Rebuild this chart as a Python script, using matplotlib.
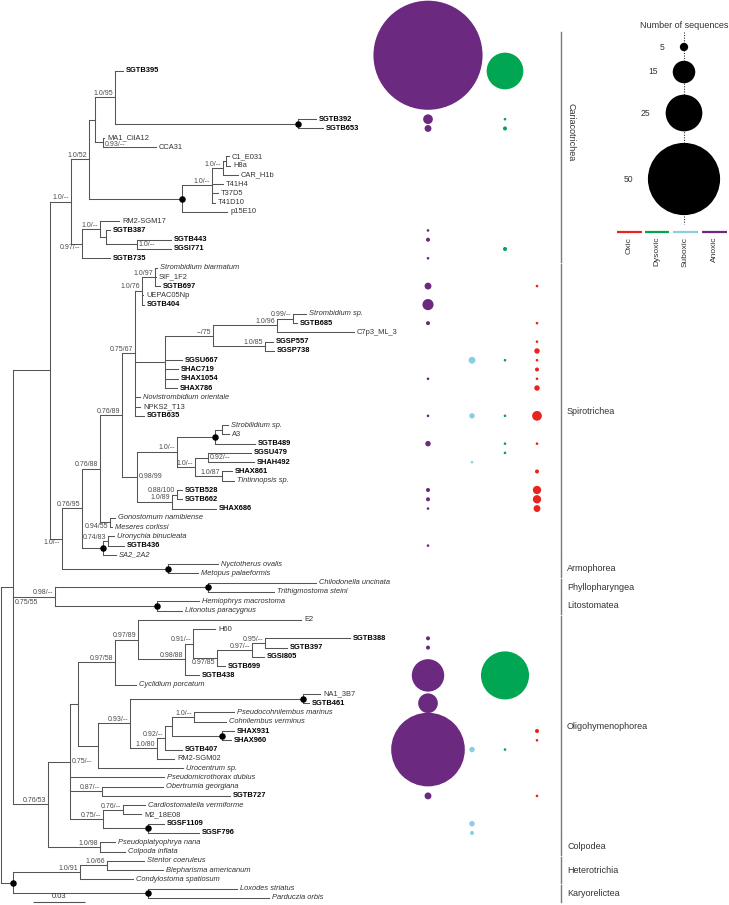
import matplotlib
matplotlib.use("Agg")
import matplotlib.pyplot as plt
from matplotlib.collections import LineCollection
from matplotlib.transforms import offset_copy

plt.rcParams['font.family'] = ['Liberation Sans', 'DejaVu Sans']

# ============================ DATA ============================
# Tree topology with support values ('*' = fully supported node, drawn as a dot).
# Branch lengths are given in units of (0.03 / 52) substitutions per site.
TREE_NEWICK = (
    "("
    "("
    "("
    "("
    "("
    "("
    "('SGTB395':8,('SGTB392':18,'SGTB653':25)'*':183)'1.0/95':20,"
    "('MA1_CilA12':1,'CCA31':53)'0.93/--':8"
    "):6,"
    "(((('C1_E031':3,'H8a':4):3,'CAR_H1b':15)'1.0/--':11,'T41H4':11,'T37D5':6,'T41D10':3)'1.0/--':30,'p15E10':45)'*':93"
    ")'1.0/52':18,"
    "(('RM2-SGM17':19,('SGTB387':4,('SGTB443':34,'SGSI771':34)'1.0/--':31):6)'1.0/--':18,'SGTB735':28)'0.97/--':11"
    ")'1.0/--':21,"
    "("
    "("
    "("
    "("
    "("
    "(('Strombidium biarmatum':2,'SIF_1F2':1,'SGTB697':5)'1.0/97':13,'UEPAC05Np':1,'SGTB404':2)'1.0/76':7,"
    "(((('Strombidium sp.':13,'SGTB685':4)'0.99/--':16,'C7p3_ML_3':77)'1.0/96':64,('SGSP557':8,'SGSP738':9)'1.0/85':52)'--/75':48,"
    "'SGSU667':17,'SHAC719':13,'SHAX1054':13,'SHAX786':12):30,"
    "'Novistrombidium orientale':5,'NPKS2_T13':5,'SGTB635':9"
    ")'0.75/67':13,"
    "(((('Strobilidium sp.':6,'A3':7):7,'SGTB489':40)'*':38,(('SGSU479':43,'SHAH492':46)'0.92/--':13,"
    "('SHAX861':10,'Tintinnopsis sp.':12)'1.0/87':27)'1.0/--':18)'1.0/--':40,"
    "(('SGTB528':5,'SGTB662':5)'0.88/100':5,'SHAX686':44)'1.0/89':35)'0.98/99':15"
    ")'0.76/89':22,"
    "('Gonostomum namibiense':5,'Meseres corlissi':2)'0.94/55':10"
    ")'0.76/88':18,"
    "(('Uronychia binucleata':6,'SGTB436':16)'0.74/83':5,'SA2_2A2':13)'*':21"
    ")'0.76/95':20,"
    "('Nyctotherus ovalis':50,'Metopus palaeformis':30)'*':106"
    ")'1.0/--':12"
    "):37,"
    "(('Chilodonella uncinata':108,'Trithigmostoma steini':66)'*':153,"
    "('Hemiophrys macrostoma':42,'Litonotus paracygnus':25)'*':102)'0.98/--':42,"
    "("
    "("
    "("
    "(('E2':163,(('H60':22,((('SGTB388':85,'SGTB397':22)'0.95/--':13,'SGSI805':12)'0.97/--':35,'SGTB699':8)'0.97/85':24)'0.91/--':8,"
    "'SGTB438':14)'0.98/88':47)'0.97/89':23,'Cyclidium porcatum':21)'0.97/58':37,"
    "((('NA1_3B7':17,'SGTB461':6)'*':173,(((('Pseudocohnilembus marinus':40,'Cohnilembus verminus':32)'1.0/--':22,"
    "('SHAX931':12,'SHAX960':9)'*':50):7,'SGTB407':17)'0.92/--':8,'RM2-SGM02':17)'1.0/80':27)'0.93/--':32,'Urocentrum sp.':85):20"
    "):8,"
    "'Pseudomicrothorax dubius':94,"
    "('Obertrumia georgiana':61,'SGTB727':128)'0.87/--':32,"
    "(('Cardiostomatella vermiforme':22,'M2_18E08':18)'0.76/--':20,('SGSF1109':16,'SGSF796':51)'*':45)'0.75/--':33"
    ")'0.75/--':22,"
    "('Pseudoplatyophrya nana':15,'Colpoda inflata':25)'1.0/98':52"
    ")'0.76/53':35"
    ")'0.75/55':12,"
    "((('Stentor coeruleus':37,'Blepharisma americanum':56)'1.0/66':27,'Condylostoma spatiosum':53)'1.0/91':67,"
    "('Loxodes striatus':89,'Parduczia orbis':121)'*':135)'*':12"
    ");"
)
BRANCH_UNIT = 0.03 / 52.0
SCALE_BAR_VALUE = 0.03

STUDY_PREFIXES = ('SG', 'SH')             # sequences from this study (bold)
EXTRA_ITALIC = ['SA2_2A2']                 # italic besides binomial names

# Number of sequences per habitat
ANOXIC = {'SGTB395': 76, 'SGTB392': 6, 'SGTB653': 4, 'SGTB387': 1, 'SGTB443': 2,
          'SGTB735': 1, 'SGTB697': 4, 'SGTB404': 7, 'SGTB685': 2, 'SHAX1054': 1,
          'SGTB635': 1, 'SGTB489': 3, 'SGTB528': 2, 'SGTB662': 2, 'SHAX686': 1,
          'SGTB436': 1, 'SGTB388': 2, 'SGTB397': 2, 'SGTB699': 1, 'SGTB438': 22,
          'SGTB461': 13, 'SGTB407': 51, 'SGTB727': 4}
SUBOXIC = {'SGSU667': 4, 'SGTB635': 3, 'SHAH492': 1, 'SGTB407': 3,
           'SGSF1109': 3, 'SGSF796': 2}
DYSOXIC = {'SGTB395': 25, 'SGTB392': 1, 'SGTB653': 2, 'SGSI771': 2, 'SGSU667': 1,
           'SGTB635': 1, 'SGTB489': 1, 'SGSU479': 1, 'SGSI805': 2, 'SGTB438': 33,
           'SGTB407': 1}
OXIC = {'SGTB697': 1, 'SGTB685': 1, 'SGSP557': 1, 'SGSP738': 3, 'SGSU667': 1,
        'SHAC719': 2, 'SHAX1054': 1, 'SHAX786': 3, 'SGTB635': 6, 'SGTB489': 1,
        'SHAX861': 2, 'SGTB528': 5, 'SGTB662': 5, 'SHAX686': 4, 'SHAX931': 2,
        'SHAX960': 1, 'SGTB727': 1}
HABITATS = ['Anoxic', 'Suboxic', 'Dysoxic', 'Oxic']
HABITAT_COUNTS = [ANOXIC, SUBOXIC, DYSOXIC, OXIC]
LEGEND_HABITAT_ORDER = ['Oxic', 'Dysoxic', 'Suboxic', 'Anoxic']
LEGEND_COUNTS = [5, 15, 25, 50]

CLADES = ['Cariacotrichea', 'Spirotrichea', 'Armophorea', 'Phyllopharyngea',
          'Litostomatea', 'Oligohymenophorea', 'Colpodea', 'Heterotrichia',
          'Karyorelictea']
CLADE_FIRST = ['SGTB395', 'Strombidium biarmatum', 'Nyctotherus ovalis',
               'Chilodonella uncinata', 'Hemiophrys macrostoma', 'E2',
               'Pseudoplatyophrya nana', 'Stentor coeruleus', 'Loxodes striatus']
CLADE_LAST = ['SGTB735', 'SA2_2A2', 'Metopus palaeformis', 'Trithigmostoma steini',
              'Litonotus paracygnus', 'SGSF796', 'Colpoda inflata',
              'Condylostoma spatiosum', 'Parduczia orbis']

# ============================ LAYOUT / STYLE ============================
FIG_W, FIG_H, DPI = 729, 905, 100
ROOT_PX = 1.0
PX_PER_UNIT = 52.0 / 0.03
FIRST_ROW_PX = 71.0
ROW_PX = 9.27
LEAF_ROW_GAP = {'SGTB392': 4.2}
BUBBLE_NUDGE_ROWS = {('SGTB395', 'Anoxic'): -1.7}
HABITAT_COLORS = {'Anoxic': '#6b2a7f', 'Suboxic': '#8ccde6',
                  'Dysoxic': '#00a651', 'Oxic': '#e8241f'}
HABITAT_COLUMN_PX = {'Anoxic': 428, 'Suboxic': 472, 'Dysoxic': 505, 'Oxic': 537}
# placement: (ha, va, dx pt, dy pt)
PLACEMENTS = {
    'la': ('right', 'bottom', -1.2, 0.2),
    'rc': ('left', 'center', 1.2, 0.0),
    'rc_low': ('left', 'center', 1.2, -1.6),
    'lb': ('right', 'top', -1.2, -0.5),
    'rb': ('left', 'top', 1.0, -8.8),
}
SUPPORT_PLACEMENT = {
    ('MA1_CilA12', 'CCA31'): 'rc_low',
    ('RM2-SGM17', 'SGTB735'): 'lb',
    ('SGTB443', 'SGSI771'): 'rc',
    ('Strobilidium sp.', 'SHAX686'): 'rc',
    ('SGSU479', 'SHAH492'): 'rc',
    ('Gonostomum namibiense', 'Meseres corlissi'): 'lb',
    ('Strombidium biarmatum', 'Metopus palaeformis'): 'lb',
    ('SGTB388', 'SGTB699'): 'lb',
    ('E2', 'SGSF796'): 'rc',
    ('SGTB395', 'Colpoda inflata'): 'rb',
}
CLADE_LABEL_SHIFT_ROWS = {'Cariacotrichea': -1.6}
LINE_COLOR = '#555555'
SUPPORT_COLOR = '#4a4a4a'


def px_x(px):
    return (px - ROOT_PX) / PX_PER_UNIT


def px_y(py):
    return (py - FIRST_ROW_PX) / ROW_PX


def bubble_area(n):
    r_px = 0.6 + 0.71 * n
    return (2 * r_px * 72.0 / DPI) ** 2


# ============================ PARSE ============================
def parse_newick(text):
    pos = [0]

    def skip():
        while text[pos[0]].isspace():
            pos[0] += 1

    def read_label():
        skip()
        if text[pos[0]] == "'":
            end = text.index("'", pos[0] + 1)
            lab = text[pos[0] + 1:end]
            pos[0] = end + 1
            return lab
        start = pos[0]
        while text[pos[0]] not in ",():;":
            pos[0] += 1
        return text[start:pos[0]].strip()

    def read_node():
        skip()
        node = {'children': [], 'label': '', 'length': 0.0}
        if text[pos[0]] == '(':
            pos[0] += 1
            while True:
                node['children'].append(read_node())
                skip()
                c = text[pos[0]]
                pos[0] += 1
                if c == ')':
                    break
        node['label'] = read_label()
        skip()
        if text[pos[0]] == ':':
            pos[0] += 1
            start = pos[0]
            while text[pos[0]] not in ",();":
                pos[0] += 1
            node['length'] = float(text[start:pos[0]])
        return node

    return read_node()


root = parse_newick(TREE_NEWICK)
leaves = []


def layout(node, parent_x):
    node['x'] = parent_x + node['length'] * BRANCH_UNIT
    if not node['children']:
        leaves.append(node)
        return
    for c in node['children']:
        layout(c, node['x'])


layout(root, 0.0)
row = 0.0
leaf_row = {}
for lf in leaves:
    row += LEAF_ROW_GAP.get(lf['label'], 0.0)
    lf['y'] = row
    leaf_row[lf['label']] = row
    row += 1.0


def set_y(node):
    if not node['children']:
        node['first'] = node['last'] = node['label']
        return node['y']
    ys = [set_y(c) for c in node['children']]
    node['y'] = 0.5 * (ys[0] + ys[-1])
    node['first'] = node['children'][0]['first']
    node['last'] = node['children'][-1]['last']
    return node['y']


set_y(root)

# ============================ DRAW ============================
fig = plt.figure(figsize=(FIG_W / DPI, FIG_H / DPI), dpi=DPI)
ax = fig.add_axes([0, 0, 1, 1])
ax.set_xlim(px_x(0), px_x(FIG_W))
ax.set_ylim(px_y(FIG_H), px_y(0))
ax.axis('off')

segs = []
dots_x, dots_y = [], []
internal = []


def walk(node):
    if node['children']:
        ch = node['children']
        segs.append([(node['x'], ch[0]['y']), (node['x'], ch[-1]['y'])])
        for c in ch:
            segs.append([(node['x'], c['y']), (c['x'], c['y'])])
            walk(c)
        internal.append(node)
        if node['label'] == '*':
            dots_x.append(node['x'])
            dots_y.append(node['y'])


walk(root)
ax.add_collection(LineCollection(segs, colors=LINE_COLOR, linewidths=0.75,
                                 capstyle='projecting', zorder=2))
ax.scatter(dots_x, dots_y, s=(6.5 * 72.0 / DPI) ** 2, c='black', linewidths=0, zorder=4)

# support values
for node in internal:
    lab = node['label']
    if lab in ('', '*'):
        continue
    place = SUPPORT_PLACEMENT.get((node['first'], node['last']), 'la')
    ha, va, dx, dy = PLACEMENTS[place]
    tr = offset_copy(ax.transData, fig=fig, x=dx, y=dy, units='points')
    ax.text(node['x'], node['y'], lab, transform=tr, ha=ha, va=va,
            fontsize=5.0, color=SUPPORT_COLOR, zorder=5)

# leaf labels
leaf_tr = offset_copy(ax.transData, fig=fig, x=2.2, y=0, units='points')
for lf in leaves:
    name = lf['label']
    bold = name.startswith(STUDY_PREFIXES)
    italic = (' ' in name) or (name in EXTRA_ITALIC)
    ax.text(lf['x'], lf['y'], name, transform=leaf_tr, ha='left', va='center',
            fontsize=5.4, fontweight='bold' if bold else 'normal',
            fontstyle='italic' if italic else 'normal',
            color='black' if bold else '#333333', zorder=5)

# scale bar
sb_x0 = px_x(33)
ax.plot([sb_x0, sb_x0 + SCALE_BAR_VALUE], [px_y(902.5), px_y(902.5)],
        color=LINE_COLOR, lw=0.8, solid_capstyle='butt')
ax.text(sb_x0 + SCALE_BAR_VALUE / 2, px_y(900.5), f"{SCALE_BAR_VALUE:.2f}",
        ha='center', va='bottom', fontsize=5.4, color='#333333')

# bubbles
bub = []
for hab, counts in zip(HABITATS, HABITAT_COUNTS):
    for name, n in counts.items():
        y = leaf_row[name] + BUBBLE_NUDGE_ROWS.get((name, hab), 0.0)
        bub.append((n, px_x(HABITAT_COLUMN_PX[hab]), y, HABITAT_COLORS[hab]))
bub.sort(key=lambda b: -b[0])
ax.scatter([b[1] for b in bub], [b[2] for b in bub],
           s=[bubble_area(b[0]) for b in bub], c=[b[3] for b in bub],
           linewidths=0, zorder=3)

# clade bars & labels
BAR_X = px_x(561)
for clade, first, last in zip(CLADES, CLADE_FIRST, CLADE_LAST):
    y0 = leaf_row[first] - 0.42
    y1 = leaf_row[last] + 0.42
    if clade == 'Cariacotrichea':
        y0 -= 3.8
        ax.plot([BAR_X, BAR_X], [y0, y1], color='#7a7a7a', lw=1.0)
        ax.text(px_x(571), 0.5 * (y0 + y1) + CLADE_LABEL_SHIFT_ROWS[clade], clade,
                rotation=270, ha='center', va='center', fontsize=6.5, color='#333333')
    else:
        ax.plot([BAR_X, BAR_X], [y0, y1], color='#7a7a7a', lw=1.0)
        ax.text(px_x(567), 0.5 * (y0 + y1), clade, ha='left', va='center',
                fontsize=6.5, color='#333333')

# size legend
LEG_X = px_x(684)
LEG_Y_PX = [47, 72, 113, 179]
ax.plot([LEG_X, LEG_X], [px_y(32), px_y(224)], color='#333333', lw=0.8,
        ls=(0, (1, 1.3)), zorder=2)
ax.scatter([LEG_X] * len(LEGEND_COUNTS), [px_y(v) for v in LEG_Y_PX],
           s=[bubble_area(n) for n in LEGEND_COUNTS], c='black', linewidths=0, zorder=3)
for n, ypx in zip(LEGEND_COUNTS, LEG_Y_PX):
    r_px = 0.6 + 0.71 * n
    ax.text(px_x(684 - r_px - 15), px_y(ypx), str(n), ha='right', va='center',
            fontsize=6.2, color='#333333')
ax.text(LEG_X, px_y(26), 'Number of sequences', ha='center', va='center',
        fontsize=6.5, color='#333333')

# habitat legend
BAR_SEGS_PX = [(617, 642), (645, 669), (673, 698), (702, 727)]
for hab, (a, b) in zip(LEGEND_HABITAT_ORDER, BAR_SEGS_PX):
    ax.plot([px_x(a), px_x(b)], [px_y(232), px_y(232)], color=HABITAT_COLORS[hab],
            lw=1.6, solid_capstyle='butt')
    ax.text(px_x((a + b) / 2), px_y(237), hab, rotation=90, ha='center', va='top',
            fontsize=6.0, color='#333333')

fig.savefig('out.png', dpi=DPI)
